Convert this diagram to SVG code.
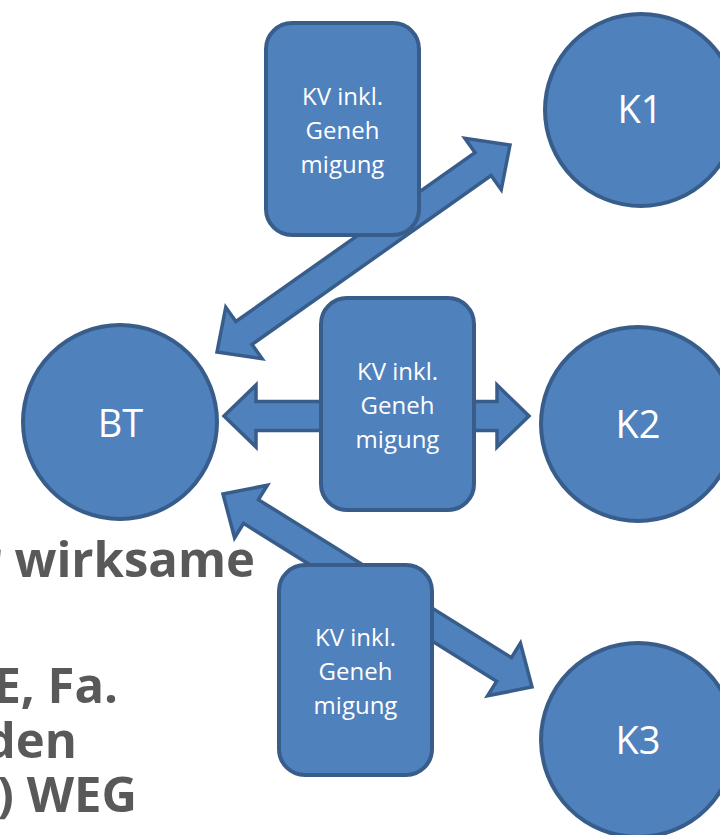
<svg xmlns="http://www.w3.org/2000/svg" width="720" height="835" viewBox="0 0 720 835">
<style>
.bg{font-family:"Open Sans","Noto Sans",sans-serif;font-weight:bold;font-size:49px;fill:#595959;text-anchor:end}
.sh{fill:#4F81BD;stroke:#385D8A;stroke-width:4;stroke-linejoin:miter}
.ar{fill:#4F81BD;stroke:#385D8A;stroke-width:3.5;stroke-linejoin:miter}
.lbl{font-family:"Open Sans","Noto Sans",sans-serif;fill:#FFFFFF;text-anchor:middle}
.big{font-size:38px}
.sm{font-size:24px}
</style>
<rect width="720" height="835" fill="#FFFFFF"/>
<g id="background-text">
<text class="bg" x="255" y="577">r wirksame</text>
<text class="bg" x="118" y="703">E, Fa.</text>
<text class="bg" x="77" y="758">den</text>
<text class="bg" x="137" y="812">) WEG</text>
</g>
<g id="connectors">
<polygon class="ar" points="217,352 225.77,307.23 235.87,321.52 474.97,152.60 464.87,138.31 510,145 501.23,189.77 491.13,175.48 252.03,344.40 262.13,358.69"/>
<polygon class="ar" points="224,416 256,385 256,401.5 497,401.5 497,385 529,416 497,447 497,430.5 256,430.5 256,447"/>
<polygon class="ar" points="223,494 267.41,485.19 258.41,499.61 511.43,657.65 520.43,643.23 532,687 487.59,695.81 496.59,681.39 243.57,523.35 234.57,537.77"/>
</g>
<g id="BT">
<circle class="sh" cx="120" cy="422" r="97"/>
<text class="lbl big" x="120.5" y="437">BT</text>
</g>
<g id="K1">
<circle class="sh" cx="641" cy="110" r="96"/>
<text class="lbl big" x="640" y="123">K1</text>
</g>
<g id="K2">
<circle class="sh" cx="638" cy="424" r="97"/>
<text class="lbl big" x="638" y="438">K2</text>
</g>
<g id="K3">
<circle class="sh" cx="638" cy="740" r="97"/>
<text class="lbl big" x="638" y="754">K3</text>
</g>
<g id="box1">
<rect class="sh" x="266" y="23" width="153" height="212" rx="26"/>
<text class="lbl sm" x="342.5" y="105">KV inkl.</text>
<text class="lbl sm" x="342.5" y="139">Geneh</text>
<text class="lbl sm" x="342.5" y="173">migung</text>
</g>
<g id="box2">
<rect class="sh" x="321" y="298" width="153" height="212" rx="26"/>
<text class="lbl sm" x="397.5" y="380">KV inkl.</text>
<text class="lbl sm" x="397.5" y="414">Geneh</text>
<text class="lbl sm" x="397.5" y="448">migung</text>
</g>
<g id="box3">
<rect class="sh" x="279" y="565" width="153" height="210" rx="26"/>
<text class="lbl sm" x="355.5" y="646">KV inkl.</text>
<text class="lbl sm" x="355.5" y="680">Geneh</text>
<text class="lbl sm" x="355.5" y="714">migung</text>
</g>
</svg>
